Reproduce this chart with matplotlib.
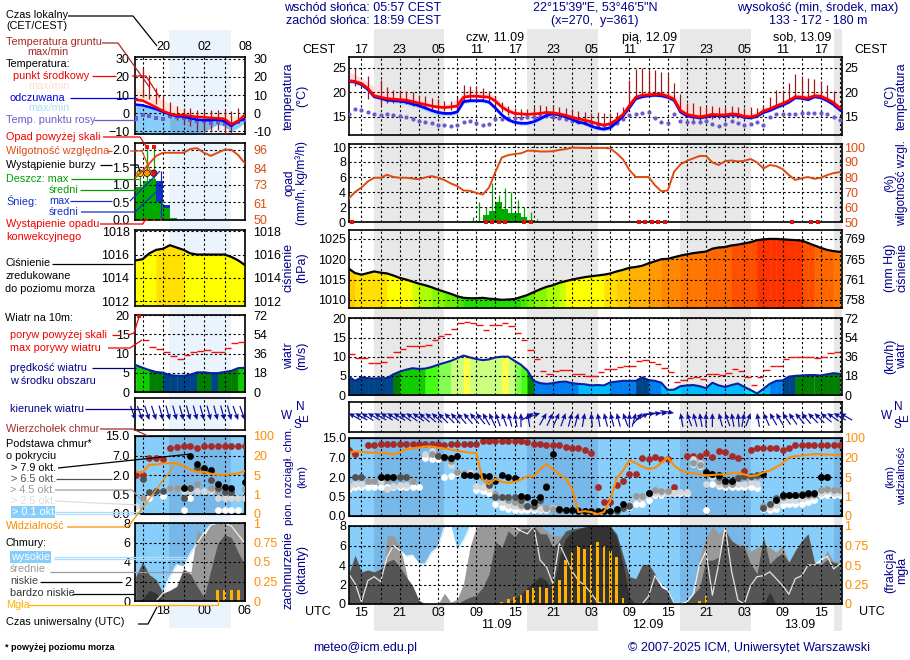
import numpy as np
import matplotlib
matplotlib.use("Agg")
import matplotlib.pyplot as plt

plt.rcParams['font.family'] = ['Liberation Sans', 'DejaVu Sans']
plt.rcParams['font.size'] = 9

W, H = 910, 660
n = np.nan

# ---------- main panel, hourly values (78 h from 15 CEST) ----------
temp_mid = [22.4,22.2,21.8,20.8,19.3,19.0,18.7,18.6,18.5,18.4,
            18.1,17.8,17.5,17.2,17.0,16.9,17.0,17.2,19.0,19.2,
            19.2,19.1,19.0,18.2,17.0,16.2,15.7,15.6,15.5,15.6,
            15.7,15.9,15.8,15.6,15.3,14.9,14.6,14.3,14.0,13.6,
            13.3,13.6,14.4,15.5,17.3,19.0,19.4,19.5,19.6,19.6,
            19.2,18.6,16.3,15.5,15.2,15.0,15.2,15.5,15.4,15.4,
            15.6,15.5,15.1,15.0,15.3,16.2,16.6,17.2,17.7,18.3,
            19.1,19.0,18.8,19.3,19.2,18.6,17.9,16.8]
temp_hi = [24.2,23.6,22.9,22.1,21.2,20.6,20.2,19.9,19.7,19.4,
           19.1,18.8,18.5,18.1,17.8,17.6,17.8,18.6,20.1,20.6,
           20.4,20.2,19.9,19.2,17.8,16.9,16.2,16.0,15.9,16.0,
           16.2,16.4,16.3,16.0,15.8,15.4,15.1,14.7,14.3,14.0,
           13.7,14.1,15.0,16.2,18.0,19.6,20.0,20.2,20.2,20.0,
           19.9,19.4,18.2,17.6,17.4,17.2,16.9,16.9,16.7,16.6,
           16.7,16.5,16.2,15.9,16.0,16.9,17.2,17.8,18.3,19.0,
           19.8,19.6,19.5,19.9,19.8,19.2,18.4,17.4]
temp_feel = [22.3,22.1,21.6,20.6,19.1,18.8,18.4,18.3,18.2,18.0,
             17.6,17.3,16.8,16.3,15.9,15.7,15.7,16.0,18.1,18.3,
             18.3,18.3,18.0,16.8,15.4,14.4,13.9,13.7,13.7,14.0,
             14.6,15.3,15.6,15.4,15.0,14.5,13.9,13.7,13.1,12.7,
             12.5,12.8,13.9,15.2,16.9,18.7,19.1,19.3,19.4,19.3,
             19.0,18.4,16.0,15.2,15.0,14.8,15.0,15.3,15.2,15.2,
             15.4,15.3,14.9,14.8,15.1,15.9,16.3,16.9,17.4,18.0,
             18.9,18.8,18.5,19.1,18.9,18.3,17.5,16.4]
feel_lo = [21.9,21.7,21.2,20.2,18.8,18.4,18.0,17.9,17.7,17.5,
           17.1,16.7,16.2,15.7,15.3,15.2,15.2,15.6,17.7,17.9,
           17.9,17.9,17.6,16.3,14.9,14.0,13.5,13.3,13.3,13.6,
           14.2,15.0,15.3,15.0,14.6,14.1,13.5,13.2,12.7,12.3,
           12.1,12.4,13.5,14.9,16.6,18.4,18.8,19.0,19.1,19.0,
           18.6,18.0,15.7,14.9,14.7,14.5,14.7,15.0,14.9,14.9,
           15.1,15.0,14.6,14.5,14.8,15.6,16.0,16.6,17.1,17.7,
           18.6,18.5,18.2,18.8,18.6,18.0,17.2,16.1]
dew = [15.5,16.7,16.3,16.0,15.6,15.3,15.5,15.4,15.2,15.0,
       14.6,14.1,14.0,13.8,13.4,13.3,13.1,13.4,13.9,14.1,
       13.8,13.3,13.6,14.6,14.5,14.7,14.8,14.8,14.9,15.0,
       15.2,15.2,15.0,14.8,14.5,14.2,14.0,13.8,13.5,13.4,
       13.3,13.5,13.8,14.5,15.4,15.5,15.8,16.0,14.8,13.9,
       13.7,15.5,14.2,14.0,14.0,14.0,14.1,13.6,13.2,13.5,
       14.1,13.8,13.4,13.5,13.9,13.4,15.0,15.5,15.5,15.5,
       15.5,15.8,15.8,15.8,15.8,15.5,15.0,14.4]
ground_max = [n,25.0,n,23.4,n,22.5,21.0,20.5,20.5,20.2,
              20.0,19.5,19.3,18.8,18.6,18.3,18.2,19.0,21.5,21.2,
              21.2,20.8,20.3,19.3,18.0,17.2,16.8,16.6,16.5,17.0,
              17.4,17.3,17.5,17.0,16.8,16.5,16.2,15.9,15.8,15.9,
              15.8,15.8,16.0,17.0,22.6,24.7,25.0,24.5,24.5,24.2,
              23.8,22.0,19.6,17.9,17.8,17.3,17.0,17.2,17.1,17.1,
              17.2,17.0,16.8,17.0,16.8,17.3,19.1,20.4,20.5,21.8,
              23.8,23.4,22.9,22.7,22.3,21.4,20.2,n]
ground_min = [n,21.3,n,18.7,n,17.4,17.9,17.9,17.8,17.6,
              17.3,17.0,16.8,16.5,16.2,16.1,16.3,16.5,18.2,18.4,
              18.3,18.2,18.0,17.3,16.0,15.3,15.0,15.0,15.0,15.0,
              15.1,15.2,15.1,14.9,14.7,14.3,14.0,13.6,13.3,12.9,
              12.7,13.0,13.9,15.0,17.0,18.8,19.1,19.2,19.3,19.2,
              19.0,18.0,15.9,14.9,14.2,14.0,13.9,14.6,14.5,14.6,
              14.9,14.7,14.5,14.5,15.0,15.9,16.3,17.0,17.5,18.0,
              18.8,18.6,18.5,19.0,18.9,18.3,17.0,n]

humidity = [65.6,70,73,77,79.5,79.5,81.5,80,79.5,79.5,
            79,78.5,79.7,80.6,79.5,78,75.7,74,71,70.8,
            69.4,68.3,73,83.5,93,94.6,95.3,95.8,97.5,97.5,
            97,97,97.2,98,98.6,99.5,99.5,99.3,99.3,99.4,
            99.4,99,95.8,91.7,84.6,80,80,80,74.5,70.5,
            71,83.5,88.4,90.8,92.4,94,94,89.7,88,90.6,
            91,90.4,90.8,92,89.7,85.7,88,87.3,85.3,81.3,
            78,79.2,80,78.8,79.5,81.3,82.6,83.3]
rain_hours = [20,21,22,23,24,25,26,27,28]
rain_mean = [0.2,1.0,1.5,2.7,1.8,1.2,1.2,0.7,0.3]
rain_max_hours = [19,20,21,22,23,24,25,26,27,28,29,30,56]
rain_max = [0.7,2.7,2.0,5.2,3.6,4.6,4.0,2.9,2.0,1.3,0.4,0.2,0.3]
conv_hours = [0.5,21.5,22.5,23.5,24.5,27.5,28.5,45.5,46.5,47.5,48.5,49.5,69.5,72.5,73.5]

pressure = [1017.7,1016.6,1016.2,1016.6,1017,1016.7,1016.5,1016,1015.4,1015,
            1014.5,1014,1013.6,1013.1,1012.5,1012,1011.5,1010.9,1010.5,1010.4,
            1010.4,1010.5,1010.3,1010.2,1010,1010.1,1010.2,1010.7,1011.2,1011.9,
            1012.6,1013.2,1013.6,1014.2,1014.6,1015,1015.3,1015.6,1015.8,1016,
            1016.2,1016.5,1017,1017.4,1017.9,1018.1,1018.4,1019,1019.5,1020,
            1020.1,1020.5,1020.9,1021.2,1021.5,1021.7,1021.9,1022.6,1022.9,1023,
            1023.4,1023.6,1023.9,1024.2,1024.7,1024.9,1025,1025,1024.9,1024.8,
            1024.7,1024.6,1024,1023.4,1022.8,1022.3,1022,1021.8]

wind = [4.8,3.7,4.6,4.4,4.3,4.4,4.4,5.4,6.1,6.6,
        7.0,6.8,6.9,7.3,7.9,8.4,8.9,9.6,10.3,9.8,
        9.4,9.1,9.3,9.8,10,10,8.9,7.9,6.4,3.7,
        3.1,2.9,3.1,3.4,3.5,3.1,2.9,2.8,2.5,2.6,
        2.5,3.3,3.5,3.7,3.7,3.7,4.6,3.9,3.7,3.2,
        1.3,1.4,2.3,2.5,2.6,2.3,1.8,3.2,2.5,2.1,
        2.6,3.0,2.1,1.3,0.4,1.6,2.9,3.7,3.8,4.8,
        5.0,5.1,5.2,5.2,5.1,5.4,5.7,5.5]
gust = [10.7,9.6,9.6,8.3,8.3,8.6,10,11.2,12,12.8,
        12.8,12.8,13,14.4,15.3,16,17.3,18.7,19,18.7,
        18.4,17,18.3,18.3,18.9,18,16.2,14.4,11.7,9.4,
        6.3,5.4,6.3,6.5,6.5,5.4,5.4,5,4.9,6,
        6.8,6.9,7.3,7.5,7.7,8.9,9.1,8.5,8.1,7,
        6,3.4,3.9,4.4,4.7,4.1,5.4,5.4,5.2,5.8,
        6.8,6.3,4.7,2.5,4.7,6.5,7.5,7.5,9.4,9.8,
        9.9,9.9,9.9,9.6,9.9,11,11.2,n]
wind_to = [300,300,302,300,300,300,302,302,305,305,
           305,310,310,312,315,315,318,320,320,320,
           322,330,335,340,340,345,350,0,350,60,
           70,30,25,25,20,15,15,10,355,350,
           345,345,345,340,0,15,40,60,80,85,
           90,100,350,340,345,350,0,0,345,340,
           350,355,10,20,350,335,330,330,325,325,
           320,320,315,315,310,305,300,300]

cloud_top = [10,8.5,n,12,12,12.7,12.7,12.7,12.7,12.7,
             12.7,12.7,12.7,12.7,12.7,12,12.7,12.7,12.7,12.7,
             12.7,13.8,13.8,13.8,13.8,13.8,13.8,13.8,13.4,12.7,
             12.7,12,12,12,11.4,10.7,10.7,10,8.8,1.2,
             .36,.36,1.4,1.7,2.8,2.8,7,6.5,7.3,6.7,
             6.7,1.2,n,7.5,7.8,7.8,8.8,7.3,9.8,9.2,
             7.8,7,3.5,10,10.7,10.7,10.7,10.7,10,10.7,
             12,12,12,12,12,12,12,12]
base_01 = [1.1,1.26,1.26,1.2,1.2,1.2,1.2,1.2,1.26,1.2,
           1.2,1.26,6.8,6.7,6.5,2,2.2,3.1,3.1,3.1,
           1,.9,.75,.32,.24,.17,.15,.15,.15,.15,
           .15,.15,n,n,n,n,n,n,n,n,
           n,n,n,.24,.24,.32,.32,.4,.6,.6,
           .75,.75,.75,.75,5.3,4.9,.15,1.5,1.3,1.2,
           1.2,1.2,1.2,1.2,1.15,.17,.15,.18,.28,.3,
           .3,.32,.36,.4,.6,.6,.62,.62]
base_25 = [1.3,1.5,1.5,1.7,1.7,1.7,1.1,1.3,1.4,1.4,
           1.7,n,8.5,9.5,n,n,5,3.2,3,3,
           1.3,1.2,1.1,.5,.35,.27,.25,.22,.22,.2,
           .19,.18,.2,n,n,n,n,n,n,n,
           n,n,n,n,.3,.5,.5,.6,.75,.75,
           .8,.8,.85,.85,6.5,5.5,1.5,2,1.5,1.4,
           1.5,1.5,1.5,1.6,1.5,.2,.22,.28,.4,.42,
           .42,.45,.5,.55,.8,.9,.8,.8]
base_45 = [n,2,2,1.7,1.7,2,1.8,1.9,2,2,
           1.7,n,n,8.5,8,7,6,3.2,2.9,2.6,
           2.4,2,1.8,.7,.5,.42,.35,.28,.25,.3,
           .38,.2,.18,.17,n,n,n,n,n,n,
           n,n,n,n,.28,.55,.55,.75,1,.9,
           .9,n,n,n,5.5,5,3.3,2.7,1.7,1.5,
           1.5,2,2,2.1,2.3,.25,.3,.42,.5,.6,
           .6,.7,.65,.7,1,1.1,1,1]
base_65 = [n,2,2,n,n,2,2,2,2,2,
           n,n,n,n,7.6,7.2,7,n,n,n,
           n,n,1.4,.5,.48,.5,.5,.4,.25,.25,
           .42,1.3,n,.16,.16,.15,.15,.14,n,n,
           n,n,.12,.2,.26,n,n,.75,n,n,
           n,n,n,n,n,n,3,2.7,2,1.7,
           1.7,1.9,2.2,2.3,2.4,.2,.3,.45,.55,.6,
           .6,.7,.72,.72,2,2,n,n]
base_79 = [n,n,n,n,n,2,2,2,n,n,
           n,n,n,n,n,7.2,7,7.5,2.6,2.4,
           2.2,2.2,2.2,1.7,2.6,2,1.9,.55,.48,.35,
           .5,1.2,8.5,.17,.16,.15,.14,.14,.14,.14,
           .14,.14,.17,.3,n,n,n,.75,n,n,
           n,n,n,n,n,n,3.3,2.7,2.6,1.7,
           1.7,n,n,n,n,2.7,n,.42,.6,.62,
           .62,.65,.8,.77,2,2,n,n]
visibility = [40,45,44,40,40,39,38,33,42,54,
              58,61,65,65,60,57,52,48,43,40,
              38,4.4,3.5,4.6,4,3.8,4,4.5,5.5,5.4,
              11,15,11,7,4.7,2.7,.2,.25,.2,.1,
              .2,.8,4.7,10,18,15.6,13,11,12,16,
              20,14,10,8.5,8,7.2,6.3,6.5,7,6.8,
              8,8.3,7,5.7,6.3,8.5,10,12.5,15.5,20,
              25.4,28,31,33.6,33.6,32,31,31]

cl_high = [3.1,2.1,.2,2.4,2.8,2.3,4.8,6,5.5,4.9,
           5,4.1,4.1,5.3,5.8,7.9,8,5.5,6.5,7.9,
           8,8,8,8,8,8,7.9,7.5,7.2,8,
           4.5,3.8,2.1,6.2,4.8,3.4,2.4,1.9,1.1,.2,
           0,0,0,0,0,0,0,.8,2.9,1.9,
           1.4,.1,0,.2,1,4.1,5.4,.9,4.1,7.9,
           3.4,.4,0,1.9,2.8,2.9,3.3,2.6,1.9,1,
           2.6,2.9,4,4,4.5,4.9,3.6,4.1]
cl_mid = [0,0,0,0,0,0,7,7,6,3.3,
          0,0,0,0,0,1.1,.2,.5,2.1,5.8,
          7.9,8,8,7.9,8,8,8,8,8,8,
          8,7.5,7,7,7,7,7,7,7.5,7.5,
          7.5,7,5,2,1,2,3.1,3,2,1.5,
          1,.2,0,.2,.7,4.8,6.8,8,7.2,7.9,
          6.5,6.2,6,5.4,5.8,6.2,5.8,5.3,6,4.3,
          3.1,4.3,2.8,4.1,4.3,5.5,4.3,4.5]
cl_low = [3.1,5,3.3,3.5,3.3,3.6,4.3,4.6,3.8,2.8,
          1.9,.4,0,0,0,0,0,0,.4,.7,
          .9,1.7,3.1,6.4,5.8,7.5,6.9,7.7,7.7,8,
          7.2,7.2,5.8,6.5,7.5,7.7,7.8,7.9,7.9,7.9,
          8,8,7.2,5,2.8,2.6,4,4.1,3.1,1.7,
          1.4,.2,0,.2,1,1.7,4.5,4.5,4.8,7.5,
          6.5,6,5.8,4.1,3.1,6.9,4.1,4.8,5.2,4.3,
          5.5,6.5,7.2,4.3,4,4.6,4.3,4.1]
cl_vlow = [0,0,0,0,0,0,0,0,0,0,
           0,0,0,0,0,0,0,0,0,0,
           0,0,0,0,0,.2,.6,1,1.7,2.3,
           2.8,2.4,1.4,4.8,6.7,7.4,7.7,7.9,8,8,
           8,7.9,6.9,4.1,.7,0,0,0,0,0,
           0,0,0,0,0,0,0,0,0,0,
           0,0,0,0,0,0,1.2,0,0,0,
           0,0,0,0,0,0,0,0]
fog_hours = [24,25,26,27,28,29,30,31,32,33,34,35,36,37,38,39,40,41,42,43,55,56,59,63]
fog = [.03,.07,.09,.12,.18,.2,.22,.2,.23,.31,.56,.67,.74,.71,.76,.8,.75,.68,.6,.08,.04,.1,.01,.01]

# ---------- small legend panels, hourly values from 16 local ----------
s_mid = [7.4,7,5.2,3.3,1.3,-.2,-1,-1,-1.5,-2,-2.2,-2.5,-2.7,-3,-6,-4.2,-.8]
s_feel = [4.8,4.4,3.4,2.3,.8,-.6,-1.5,-1.9,-2.7,-3.5,-3.8,-3.8,-3.5,-4.4,-6.9,-4.4,-3]
s_hi = [14,12,10.5,9,7.2,5,3.3,2,1.4,.8,.4,0,0,0,-1.5,-1.5,0]
s_lo = [-14,-14,-14,-14,-14,-14,-14,-14,-12,-11,-10,-8,-6,-7,-10,-8,-5]
s_dew = [-2.5,-1,-1.5,-2.5,-3,-1.5,-2,-2.5,-3.5,-4.4,-4.4,-5.4,-5,-5.8,-6.4,-5,-3.5]
s_gmax = [n,25,21,14,10,6,4,3,3,2,2,2,2,2,1.5,3,n]
s_gmin = [n,9,8,5,1,-2.5,-3.5,-6,-7,-9,-10,-10.5,-9,-13,-12,-5,n]
s_hum = [78,82,87,92,94,94,94,94,96.5,97,94,92,94,96,96,92.5,87]
s_rain = [.95,1.1,1.17,.52,.33,.05]
s_snow = [0,0,0,.58,.1,0]
s_rain_max = [1.33,2.1,2.1]
s_snow_max = [1.38]
s_press = [1015.5,1015.6,1016.1,1016.4,1016.5,1016.8,1016.6,1016.4,1016.1,1016,1016,1016,1016,1016,1015.8,1015.5,1015.1]
s_wind = [7,6.3,5.7,5.2,5,4.4,4.2,4.2,4.5,5.1,5.1,4.9,4.9,5.2,5.5,6.2,6.3]
s_gust = [n,13.5,11.6,11.2,10.4,9.4,8.7,9.7,10.4,10.7,10.8,10.4,10.4,11.5,12.8,13,n]
s_wind_to = [160,160,162,162,165,165,165,165,165,165,165,165,165,165,165,160,160]
s_top = [2,2,6.3,6.3,6,10,10.5,11,11,10,11,11,11,11,11,11,11]
s_b01 = [.1,.4,.4,n,.45,n,n,.1,.4,n,n,n,.1,.1,.1,.1,n]
s_b25 = [.2,n,n,n,n,1,1,.75,.75,.75,.75,.75,.4,.4,.4,.4,.4]
s_b45 = [n,.4,n,n,n,1,1,1,1,1.3,n,1,.75,.75,.75,n,.9]
s_b65 = [n,1.7,.7,.75,.75,n,n,.4,1,3.8,3.2,1.6,1,.7,.7,n,n]
s_b79 = [n,n,n,n,n,n,n,1,7,4.7,3.9,3.2,1.3,1.1,1,n,1.5]
s_vis = [7.5,7,13,13,14,14,14,12,9,7.5,7.5,6,5.2,5.2,5.6,6.2,8]
s_high = [0,0,0,0,.8,2.5,3.7,3.5,4.9,5.9,7,7.8,8,8,7.7,6.8,5.9]
s_mid_cl = [0,0,0,0,0,0,0,.1,2.5,7.2,6.7,7.8,8,8,8,8,8]
s_low = [2.5,4,2.7,2.2,.8,1.1,1.5,3.3,2.8,1.5,.4,3.2,5.9,6.8,6.5,5,3.7]
s_vlow = [0,.2,1.1,.8,0,0,0,0,0,0,0,0,0,0,0,0,0]
s_fog = [0,0,0,0,0,0,0,0,0,0,0,0,.14,.14,.14,.14,0]

# ---------- labels ----------
hours_top = ['17','23','05','11','17','23','05','11','17','23','05','11','17']
hours_utc = ['15','21','03','09','15','21','03','09','15','21','03','09','15']

# colour classes
press_bins = [1010.6,1011.2,1012,1013,1014,1014.6,1016.3,1017,1018,1019,1020,1021,1022,1023.5,1024.5]
press_cols = ['#22DD00','#44E800','#66F000','#88F800','#AAFF00','#CCFF00','#FFFF00','#FFE000','#FFCC00',
              '#FFB000','#FF9900','#FF8800','#FF7700','#FF6600','#FF5000','#FF3300']
wind_bins = [1,2,3,4,5,6,7,8,9,10]
wind_cols = ['#00FFFF','#00DDFF','#00BBFF','#0080F0','#004488','#007F00','#11CC00','#44FF11','#80FF50','#CCFF80','#FFFF44']

t = np.arange(78)
st = 16 + np.arange(17)
NAVY = '#00008B'
ORANGE = '#FF8C00'
HUMC = '#E04A10'
SKY = '#87CEFA'
SKYN = '#78B8E8'
LEG = 7.8


def panel(x0, y0, x1, y1, z=2):
    ax = fig.add_axes([x0 / W, 1 - y1 / H, (x1 - x0) / W, (y1 - y0) / H], zorder=z)
    ax.patch.set_alpha(0)
    for sp in ax.spines.values():
        sp.set_linewidth(1.2)
    return ax


def style(ax, xl, xt, yl, yt, ylab=None, pad=2):
    ax.set_xlim(*xl)
    ax.set_ylim(*yl)
    ax.set_xticks(xt)
    ax.set_yticks(yt)
    if ylab is not None:
        ax.set_yticklabels(ylab)
    ax.tick_params(length=0, labelbottom=False, pad=pad, labelsize=9)
    ax.set_axisbelow(False)
    ax.grid(True, color='k', lw=0.8, ls=(0, (2, 2.2)))


def right(ax, ticks, labels, color='k', lim=None, pad=2):
    tw = ax.twinx()
    tw.set_ylim(*(lim if lim else ax.get_ylim()))
    tw.set_yticks(ticks)
    tw.set_yticklabels(labels, color=color)
    tw.tick_params(length=0, pad=pad, labelsize=9)
    tw.patch.set_alpha(0)
    for sp in tw.spines.values():
        sp.set_visible(False)
    return tw


def shade(ax, x, v, base, bins, cols):
    v = np.array(v, dtype=float)
    for i in range(len(x) - 1):
        c = cols[np.digitize(v[i:i + 2].mean(), bins)]
        ax.fill_between(x[i:i + 2], base, v[i:i + 2], color=c, lw=0.4, zorder=1)


def cloud_scale(ax, levels):
    pos = np.linspace(0, 1, 5)
    ax.set_yscale('function', functions=(lambda v: np.interp(v, levels, pos),
                                         lambda p: np.interp(p, pos, levels)))


def draw_bases(ax, x, top, b01, b25, b45, b65, b79, s=24):
    ax.scatter(x, top, s=s, color='#A52A2A', lw=0, zorder=3, clip_on=True)
    ax.scatter(x, b01, s=s, color='white', lw=0, zorder=3.1)
    ax.scatter(x, b25, s=s, color='#D8D8D8', lw=0, zorder=3.2)
    ax.scatter(x, b45, s=s, color='#999999', lw=0, zorder=3.3)
    ax.scatter(x, b65, s=s, color='#505050', lw=0, zorder=3.4)
    ax.scatter(x, b79, s=s, color='black', lw=0, zorder=3.5)


def draw_layers(ax, x, high, mid, low, vlow):
    ax.fill_between(x, 0, high, color='white', lw=0, zorder=1)
    ax.fill_between(x, 0, mid, color='#999999', lw=0, zorder=1.1)
    ax.fill_between(x, 0, low, color='#555555', lw=0, zorder=1.2)
    ax.fill_between(x, 0, vlow, color='#333333', lw=0, zorder=1.3)
    ax.plot(x, high, color='white', lw=0.9, alpha=0.85, zorder=1.4)


fig = plt.figure(figsize=(W / 100, H / 100), dpi=100, facecolor='white')

# ---------- day / night bands behind everything ----------
xlim = (0, 77.27)
nights = [(4, 15), (28, 39), (52, 63), (76, 77.27)]
back = fig.add_axes([348.7 / W, 1 - 631 / H, 493 / W, 602 / H], zorder=0)
back.set_xlim(*xlim)
back.axis('off')
for a, b in nights:
    back.axvspan(a, b, color='#E8E8E8', lw=0)

sxlim = (15.9, 32)
sback = fig.add_axes([135 / W, 1 - 628 / H, 110 / W, 598 / H], zorder=0)
sback.set_xlim(*sxlim)
sback.axis('off')
sback.axvspan(20.9, 30, color='#EBF3FD', lw=0)

xt = np.arange(2, 78, 3)
sxt = np.arange(17, 33, 3)
x0, x1 = 348.7, 841.7

# ---------- main: temperature ----------
ax = panel(x0, 57, x1, 135)
style(ax, xlim, xt, (11.3, 27.2), [15, 20, 25])
ax.fill_between(t, temp_mid, temp_hi, color='#FFDDDD', lw=0, zorder=1)
ax.fill_between(t, feel_lo, temp_feel, color='#AADDFF', lw=0, zorder=1)
ax.vlines(t, ground_min, ground_max, color='#A01818', lw=0.9, zorder=3)
ax.plot(t, dew, ls='none', marker='o', ms=3, color='#6A5ACD', mew=0, zorder=3)
ax.plot(t, temp_feel, color='#0000FF', lw=2, zorder=3.1)
ax.plot(t, temp_mid, color='#FF0000', lw=2, zorder=3.2)
top_labels = []
for i, h in enumerate(xt):
    top_labels.append(hours_top[i // 2] if i % 2 == 0 else '')
ax.set_xticklabels(top_labels)
ax.tick_params(labeltop=True, pad=1)
ax.tick_params(axis='y', pad=2)
right(ax, [15, 20, 25], ['15', '20', '25'])

# ---------- main: precipitation and humidity ----------
ax = panel(x0, 144, x1, 222)
style(ax, xlim, xt, (0, 10.4), [0, 2, 4, 6, 8, 10])
ax.bar(rain_hours, rain_mean, width=1, align='edge', color='#00AA00', lw=0, zorder=1)
ax.vlines(np.array(rain_max_hours) + 0.5, 0, rain_max, color='#00AA00', lw=0.9, zorder=1.2)
ax.plot(conv_hours, np.zeros(len(conv_hours)), ls='none', marker='s', ms=2.6, color='#E01010', mew=0,
        zorder=4, clip_on=False)
tw = right(ax, [50, 60, 70, 80, 90, 100], ['50', '60', '70', '80', '90', '100'], color=HUMC, lim=(50, 102))
tw.plot(t, humidity, color=HUMC, lw=1.4)

# ---------- main: pressure ----------
ax = panel(x0, 230, x1, 308)
style(ax, xlim, xt, (1008, 1027.2), [1010, 1015, 1020, 1025])
shade(ax, t, pressure, 1008, press_bins, press_cols)
ax.plot(t, pressure, color='k', lw=1.6, zorder=3)
right(ax, [1010, 1015, 1020, 1025], ['758', '761', '765', '769'])

# ---------- main: wind ----------
ax = panel(x0, 318, x1, 395)
style(ax, xlim, xt, (0, 20.1), [0, 5, 10, 15, 20])
shade(ax, t, wind, 0, wind_bins, wind_cols)
ax.plot(t, wind, color='#0A20A0', lw=1.5, zorder=3)
ax.hlines(gust, t, t + 1, color='#F01010', lw=1, zorder=3)
right(ax, [0, 5, 10, 15, 20], ['0', '18', '36', '54', '72'])

# ---------- main: wind direction ----------
ax = panel(x0, 402, x1, 432)
style(ax, xlim, xt, (0, 1), [])
rad = np.radians(wind_to)
ax.quiver(t, np.full(78, 0.63), np.sin(rad), np.cos(rad), angles='uv', scale_units='inches', scale=1 / 0.14,
          pivot='tip', units='dots', width=1.2, headwidth=4.5, headlength=5, headaxislength=4.5,
          color='#1010A0', clip_on=False, zorder=3)

# ---------- main: cloud base ----------
base_levels = [0, 0.5, 2, 7, 15]
vis_levels = [0, 1, 5, 20, 100]
ax = panel(x0, 438, x1, 516)
ax.set_facecolor(SKY)
ax.patch.set_alpha(1)
cloud_scale(ax, base_levels)
style(ax, xlim, xt, (0, 15), base_levels, ['0.0', '0.5', '2.0', '7.0', '15.0'])
for a, b in nights:
    ax.axvspan(a, b, color=SKYN, lw=0, zorder=0.5)
draw_bases(ax, t, cloud_top, base_01, base_25, base_45, base_65, base_79)
tw = ax.twinx()
cloud_scale(tw, vis_levels)
tw.set_ylim(0, 100)
tw.set_yticks(vis_levels)
tw.set_yticklabels(['0', '1', '5', '20', '100'], color=ORANGE)
tw.tick_params(length=0, pad=2, labelsize=9, which='both')
tw.minorticks_off()
tw.plot(t, visibility, color=ORANGE, lw=1.5)

# ---------- main: cloud cover ----------
ax = panel(x0, 526, x1, 604)
ax.set_facecolor(SKY)
ax.patch.set_alpha(1)
style(ax, xlim, xt, (0, 8), [0, 2, 4, 6, 8])
for a, b in nights:
    ax.axvspan(a, b, color=SKYN, lw=0, zorder=0.5)
draw_layers(ax, t, cl_high, cl_mid, cl_low, cl_vlow)
ax.bar(fog_hours, np.array(fog) * 8, width=0.42, color='#FFB300', lw=0, zorder=2)
bottom_labels = []
for i, h in enumerate(xt):
    bottom_labels.append(hours_utc[i // 2] if i % 2 == 0 else '')
ax.set_xticklabels(bottom_labels)
ax.tick_params(labelbottom=True, pad=2)
right(ax, [0, 2, 4, 6, 8], ['0', '0.25', '0.5', '0.75', '1'], color=ORANGE)

# ---------- small panels ----------
sl, sr = 135, 245
ax = panel(sl, 57, sr, 134)
style(ax, sxlim, sxt, (-11.4, 31), [-10, 0, 10, 20, 30], pad=4)
ax.fill_between(st, s_mid, s_hi, color='#FFE4D8', lw=0, zorder=1)
ax.fill_between(st, s_lo, s_feel, color=SKY, lw=0, zorder=1)
night_mask = (st >= 21) & (st <= 30)
ax.fill_between(st, s_lo, s_feel, where=night_mask, color=SKYN, lw=0, zorder=1.1)
ax.vlines(st, s_gmin, s_gmax, color='#A01818', lw=0.9, zorder=3)
ax.plot(st, s_dew, ls='none', marker='s', ms=2.6, color='#6A5ACD', mew=0, zorder=3)
ax.plot(st, s_feel, color='#0000FF', lw=1.8, zorder=3.1)
ax.plot(st, s_mid, color='#FF0000', lw=1.8, zorder=3.2)
ax.set_xticklabels(['', '20', '', '02', '', '08'])
ax.tick_params(labeltop=True, pad=3)
ax.tick_params(axis='y', pad=4)
right(ax, [-10, 0, 10, 20, 30], ['-10', '0', '10', '20', '30'], pad=6)

ax = panel(sl, 143, sr, 220)
style(ax, sxlim, sxt, (0, 2.19), [0, .5, 1, 1.5, 2], ['0.0', '0.5', '1.0', '1.5', '2.0'], pad=4)
ax.bar(st[:6], s_rain, width=1, align='edge', color='#00AA00', lw=0, zorder=1)
ax.bar(st[:6], s_snow, bottom=s_rain, width=1, align='edge', color='#1030C8', lw=0, zorder=1)
ax.vlines(st[:3] + 0.65, 0, s_rain_max, color='#00AA00', lw=0.9, zorder=1.2)
ax.vlines(st[3:4] + 0.65, 0, s_snow_max, color='#1030C8', lw=0.9, zorder=1.2)
ax.plot(st[1:3] + 0.65, [2.09, 2.09], ls='none', marker='s', ms=2.6, color='#F01010', mew=0, zorder=4)
ax.scatter(st[:3] + 0.65, [1.33, 1.33, 1.33], s=22, c=['#FFE000', '#FF9900', '#E01010'],
           edgecolors='k', lw=0.5, zorder=4)
ax.plot([16.8, 17.7, 18.7, 19.7], [0, 0, 0, 0], ls='none', marker='s', ms=2, color='#E01010', mew=0, zorder=4,
        clip_on=False)
tw = right(ax, [50, 61, 73, 84, 96], ['50', '61', '73', '84', '96'], color=HUMC, lim=(50, 100.4), pad=6)
tw.plot(st, s_hum, color=HUMC, lw=1.4)

ax = panel(sl, 230, sr, 306)
style(ax, sxlim, sxt, (1011.6, 1018.1), [1012, 1014, 1016, 1018], pad=4)
shade(ax, st, s_press, 1011.6, press_bins, press_cols)
ax.plot(st, s_press, color='k', lw=1.6, zorder=3)
right(ax, [1012, 1014, 1016, 1018], ['1012', '1014', '1016', '1018'], pad=6)

ax = panel(sl, 315, sr, 392)
style(ax, sxlim, sxt, (0, 20), [0, 5, 10, 15, 20], pad=4)
shade(ax, st, s_wind, 0, wind_bins, wind_cols)
ax.plot(st, s_wind, color='#0A20A0', lw=1.5, zorder=3)
ax.hlines(s_gust, st, st + 1, color='#F01010', lw=1, zorder=3)
ax.plot([16.5], [19.7], ls='none', marker='s', ms=2.4, color='#F01010', mew=0, zorder=4)
right(ax, [0, 5, 10, 15, 20], ['0', '18', '36', '54', '72'], pad=6)

ax = panel(sl, 398, sr, 430)
style(ax, sxlim, sxt, (0, 1), [])
rad = np.radians(s_wind_to)
ax.quiver(st, np.full(17, 0.31), np.sin(rad), np.cos(rad), angles='uv', scale_units='inches', scale=1 / 0.15,
          pivot='tip', units='dots', width=1.2, headwidth=4.5, headlength=5, headaxislength=4.5,
          color='#1010A0', clip_on=False, zorder=3)

ax = panel(sl, 436, sr, 514)
ax.set_facecolor(SKY)
ax.patch.set_alpha(1)
cloud_scale(ax, base_levels)
style(ax, sxlim, sxt, (0, 15), base_levels, ['0.0', '0.5', '2.0', '7.0', '15.0'], pad=4)
ax.axvspan(20.9, 30, color=SKYN, lw=0, zorder=0.5)
draw_bases(ax, st, s_top, s_b01, s_b25, s_b45, s_b65, s_b79)
tw = ax.twinx()
cloud_scale(tw, vis_levels)
tw.set_ylim(0, 100)
tw.set_yticks(vis_levels)
tw.set_yticklabels(['0', '1', '5', '20', '100'], color=ORANGE)
tw.tick_params(length=0, pad=6, labelsize=9, which='both')
tw.minorticks_off()
tw.plot(st, s_vis, color=ORANGE, lw=1.5)

ax = panel(sl, 523, sr, 601)
ax.set_facecolor(SKY)
ax.patch.set_alpha(1)
style(ax, sxlim, sxt, (0, 8), [0, 2, 4, 6, 8], pad=4)
ax.axvspan(20.9, 30, color=SKYN, lw=0, zorder=0.5)
draw_layers(ax, st, s_high, s_mid_cl, s_low, s_vlow)
ax.bar(st, np.array(s_fog) * 8, width=0.42, color='#FFB300', lw=0, zorder=2)
ax.set_xticklabels(['', '18', '', '00', '', '06'])
ax.tick_params(labelbottom=True, pad=3)
right(ax, [0, 2, 4, 6, 8], ['0', '0.25', '0.5', '0.75', '1'], color=ORANGE, pad=6)

# ---------- texts and leader lines ----------
over = fig.add_axes([0, 0, 1, 1], zorder=10)
over.set_xlim(0, W)
over.set_ylim(H, 0)
over.axis('off')


def lab(x, y, s, color='k', ha='left', rot=0, size=9, **kw):
    over.text(x, y, s, color=color, ha=ha, va='center', rotation=rot, fontsize=size, **kw)


for x, y, s, c in [
    (6, 15, 'Czas lokalny', 'k'), (6, 26, '(CET/CEST)', 'k'),
    (6, 42, 'Temperatura gruntu', '#A52A2A'), (27, 52, 'max/min', '#A52A2A'),
    (6, 64, 'Temperatura:', 'k'), (13, 76, 'punkt środkowy', '#F00000'), (28, 86, 'max/min', '#FFDDCC'),
    (10, 98, 'odczuwana', '#0000E0'), (28, 108, 'max/min', '#AADDFF'), (6, 120, 'Temp. punktu rosy', '#6A5ACD'),
    (6, 137, 'Opad powyżej skali', '#F00000'), (6, 151, 'Wilgotność względna', HUMC),
    (6, 165, 'Wystąpienie burzy', 'k'), (6, 179, 'Deszcz: max', '#00A000'), (49, 190, 'średni', '#00A000'),
    (6, 201, 'Śnieg:', '#1030C8'), (49, 201, 'max', '#1030C8'), (49, 212, 'średni', '#1030C8'),
    (6, 224, 'Wystąpienie opadu', '#F00000'), (6, 237, 'konwekcyjnego', '#F00000'),
    (5, 263, 'Ciśnienie', 'k'), (5, 276, 'zredukowane', 'k'), (5, 289, 'do poziomu morza', 'k'),
    (5, 318, 'Wiatr na 10m:', 'k'), (10, 335, 'poryw powyżej skali', '#F00000'),
    (10, 348, 'max porywy wiatru', '#F00000'), (10, 368, 'prędkość wiatru', NAVY),
    (10, 381, 'w środku obszaru', NAVY), (10, 409, 'kierunek wiatru', NAVY),
    (6, 429, 'Wierzchołek chmur', '#A52A2A'), (6, 444, 'Podstawa chmur*', 'k'), (6, 456, 'o pokryciu', 'k'),
    (11, 468, '> 7.9 okt.', 'k'), (11, 479, '> 6.5 okt.', '#505050'), (10, 490, '> 4.5 okt.', '#999999'),
    (11, 501, '> 2.5 okt.', '#DDDDDD'), (6, 526, 'Widzialność', ORANGE), (6, 543, 'Chmury:', 'k'),
    (10, 569, 'średnie', '#999999'), (10, 581, 'niskie', '#444444'), (10, 593, 'bardzo niskie', '#333333'),
    (6, 605, 'Mgła', '#FFB300'), (6, 622, 'Czas uniwersalny (UTC)', 'k'),
]:
    lab(x, y, s, c, size=LEG)
over.add_patch(plt.Rectangle((11, 506), 44, 12, color=SKY, lw=0))
lab(12, 512, '> 0.1 okt.', 'white', size=LEG)
over.add_patch(plt.Rectangle((10, 551), 41, 12, color=SKY, lw=0))
lab(11, 557, 'wysokie', 'white', size=LEG)
lab(5, 648, '* powyżej poziomu morza', 'k', size=6.5, fontweight='bold')

leaders = [
    ([68, 133, 157], [16, 16, 46], 'k'),
    ([102, 118, 150], [43, 43, 88], '#A52A2A'),
    ([92, 116], [76, 76], '#F00000'),
    ([132, 146, 160], [76, 76, 98], '#F00000'),
    ([70, 137], [98, 98], '#0000E0'),
    ([94, 137], [120, 120], '#6A5ACD'),
    ([103, 140, 146], [137, 137, 146], '#F00000'),
    ([107, 112], [151, 151], HUMC),
    ([130, 142, 152], [151, 151, 175], HUMC),
    ([100, 112], [165, 165], 'k'),
    ([130, 138, 140], [165, 165, 172], 'k'),
    ([71, 139], [179, 179], '#00A000'),
    ([80, 139], [190, 190], '#00A000'),
    ([70, 112], [201, 201], '#1030C8'),
    ([130, 160], [201, 171], '#1030C8'),
    ([81, 135, 158], [212, 212, 190], '#1030C8'),
    ([100, 143, 146], [224, 224, 218], '#F00000'),
    ([52, 133], [264, 264], 'k'),
    ([112, 120], [335, 335], '#F00000'),
    ([128, 134, 139], [335, 333, 317], '#F00000'),
    ([108, 130, 142], [348, 348, 340], '#F00000'),
    ([92, 136], [368, 368], NAVY),
    ([85, 142], [409, 409], NAVY),
    ([100, 133, 148], [429, 429, 436], '#A52A2A'),
    ([58, 191], [468, 468 - 14], 'k'),
    ([56, 112], [479, 479], '#505050'),
    ([55, 132, 144], [490, 490, 502], '#999999'),
    ([55, 138], [501, 505], '#DDDDDD'),
    ([55, 140], [512, 512], '#AADDFF'),
    ([55, 140], [514, 514], '#AADDFF'),
    ([67, 128, 174], [527, 527, 466], ORANGE),
    ([54, 186], [557, 557], '#AADDFF'),
    ([54, 186], [559, 559], '#AADDFF'),
    ([50, 194], [572, 572], '#999999'),
    ([40, 122], [582, 582], 'k'),
    ([72, 135], [594, 594], 'k'),
    ([28, 218, 218], [605, 605, 596], '#FFB300'),
    ([138, 148, 157], [624, 624, 607], 'k'),
]
for xs, ys, c in leaders:
    over.plot(xs, ys, color=c, lw=0.9, solid_capstyle='butt')

# main headers
lab(363, 8, 'wschód słońca: 05:57 CEST', NAVY, ha='center')
lab(363, 21, 'zachód słońca: 18:59 CEST', NAVY, ha='center')
lab(595, 8, '22°15\'39"E, 53°46\'5"N', NAVY, ha='center')
lab(595, 21, '(x=270,  y=361)', NAVY, ha='center')
lab(818, 8, 'wysokość (min, środek, max)', NAVY, ha='center')
lab(818, 21, '133 - 172 - 180 m', NAVY, ha='center')
lab(495, 38, 'czw, 11.09', 'k', ha='center')
lab(650, 38, 'pią, 12.09', 'k', ha='center')
lab(802, 38, 'sob, 13.09', 'k', ha='center')
lab(319, 50, 'CEST', 'k', ha='center')
lab(871, 50, 'CEST', 'k', ha='center')
lab(318, 612, 'UTC', 'k', ha='center')
lab(872, 612, 'UTC', 'k', ha='center')
lab(496, 625, '11.09', 'k', ha='center')
lab(648, 625, '12.09', 'k', ha='center')
lab(800, 625, '13.09', 'k', ha='center')
lab(365, 648, 'meteo@icm.edu.pl', NAVY, ha='center')
lab(749, 648, '© 2007-2025 ICM, Uniwersytet Warszawski', NAVY, ha='center')

for y, a, b, ra, rb, ls in [
    (96, 'temperatura', '(°C)', 'temperatura', '(°C)', 9),
    (183, 'opad', '(mm/h, kg/m³/h)', 'wilgotność wzgl.', '(%)', 8.6),
    (268, 'ciśnienie', '(hPa)', 'ciśnienie', '(mm Hg)', 9),
    (356, 'wiatr', '(m/s)', 'wiatr', '(km/h)', 9),
    (476, 'pion. rozciągł. chm.', '(km)', 'widzialność', '(km)', 8.2),
    (570, 'zachmurzenie', '(oktanty)', 'mgła', '(frakcja)', 9),
]:
    lab(289, y, a, NAVY, ha='center', rot=90, size=ls)
    lab(302, y, b, NAVY, ha='center', rot=90, size=ls)
    lab(902, y, ra, NAVY, ha='center', rot=90, size=ls)
    lab(890, y, rb, NAVY, ha='center', rot=90, size=ls)

for xw, xn, xe, xs in [(287, 300, 305, 297), (887, 898, 905, 897)]:
    lab(xw, 416, 'W', NAVY, ha='center', size=8.5)
    lab(xn, 407, 'N', NAVY, ha='center', size=8.5)
    lab(xe, 417, 'E', NAVY, ha='center', size=8.5, rot=90)
    lab(xs, 425, 'S', NAVY, ha='center', size=8.5)

fig.savefig('out.png', dpi=100)
